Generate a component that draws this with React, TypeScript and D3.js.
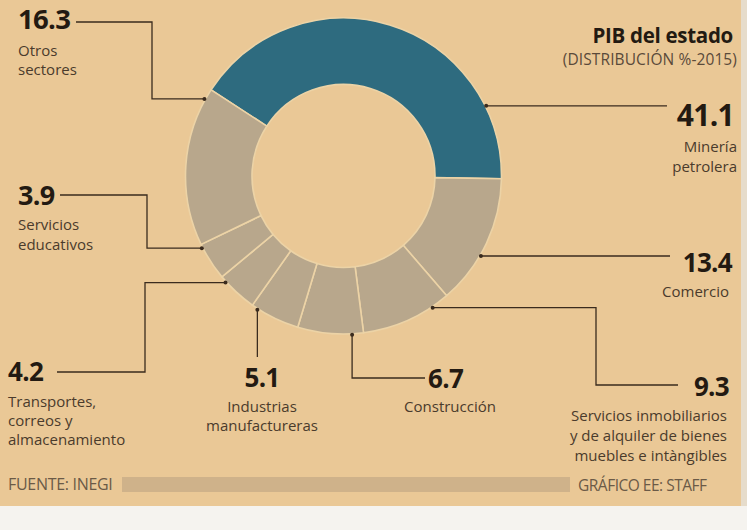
import React from "react";
import * as d3 from "d3";

// ---- data ----
const categories = [
  "Minería petrolera",
  "Comercio",
  "Servicios inmobiliarios y de alquiler de bienes muebles e intángibles",
  "Construcción",
  "Industrias manufactureras",
  "Transportes, correos y almacenamiento",
  "Servicios educativos",
  "Otros sectores",
];
const values = [41.1, 13.4, 9.3, 6.7, 5.1, 4.2, 3.9, 16.3];
const valueLabels = ["41.1", "13.4", "9.3", "6.7", "5.1", "4.2", "3.9", "16.3"];
const labelLines = [
  ["Minería", "petrolera"],
  ["Comercio"],
  ["Servicios inmobiliarios", "y de alquiler de bienes", "muebles e intàngibles"],
  ["Construcción"],
  ["Industrias", "manufactureras"],
  ["Transportes,", "correos y", "almacenamiento"],
  ["Servicios", "educativos"],
  ["Otros", "sectores"],
];
const title = "PIB del estado";
const subtitle = "(DISTRIBUCIÓN %-2015)";
const source = "FUENTE: INEGI";
const credit = "GRÁFICO EE: STAFF";

// ---- layout (positions / styles) ----
const W = 747;
const H = 530;
const CX = 343.5;
const CY = 176;
const R_OUT = 158;
const R_IN = 91.5;
const START_DEG = -56.96;

const BG = "#eac896";
const GRAY = "#b8a78c";
const BLUE = "#2e6b7f";
const SEP = "#ecd3a6";
const INK = "#231a12";
const LABEL_INK = "#4a3b2c";
const LINE_INK = "#3a2b1e";

type Step = { h?: number; v?: number };
type Lay = {
  anchorDeg: number;
  route: Step[];
  numX: number;
  numY: number;
  numSize: number;
  align: "start" | "middle" | "end";
  lineX: number;
  lineAlign: "start" | "middle" | "end";
  lineY: number[];
};

const layout: Lay[] = [
  { anchorDeg: 63.8, route: [{ h: 667 }], numX: 734, numY: 126, numSize: 30, align: "end", lineX: 737, lineAlign: "end", lineY: [152, 172] },
  { anchorDeg: 120.2, route: [{ h: 670 }], numX: 732, numY: 272, numSize: 26, align: "end", lineX: 729, lineAlign: "end", lineY: [297] },
  { anchorDeg: 145.9, route: [{ h: 596 }, { v: 385 }, { h: 678 }], numX: 729, numY: 396, numSize: 26, align: "end", lineX: 727, lineAlign: "end", lineY: [421, 441, 461] },
  { anchorDeg: 176.9, route: [{ v: 378 }, { h: 425 }], numX: 428, numY: 388, numSize: 26, align: "start", lineX: 450, lineAlign: "middle", lineY: [412] },
  { anchorDeg: 212.8, route: [{ v: 357 }], numX: 262, numY: 387, numSize: 26, align: "middle", lineX: 262, lineAlign: "middle", lineY: [412, 431] },
  { anchorDeg: 227.9, route: [{ h: 145 }, { v: 372 }, { h: 57 }], numX: 8, numY: 381, numSize: 26, align: "start", lineX: 8, lineAlign: "start", lineY: [407, 426, 445] },
  { anchorDeg: 243, route: [{ h: 147 }, { v: 195 }, { h: 60 }], numX: 18, numY: 205, numSize: 27, align: "start", lineX: 18, lineAlign: "start", lineY: [230, 250] },
  { anchorDeg: 299, route: [{ h: 152 }, { v: 22 }, { h: 76 }], numX: 18, numY: 29, numSize: 27.5, align: "start", lineX: 18, lineAlign: "start", lineY: [56, 75] },
];

const FONT = "'Open Sans', 'Noto Sans', sans-serif";

export default function App() {
  const pie = d3
    .pie<number>()
    .sort(null)
    .value((d) => d)
    .startAngle((START_DEG * Math.PI) / 180)
    .endAngle((START_DEG * Math.PI) / 180 + 2 * Math.PI);
  const arcs = pie(values);
  const arcGen = d3.arc<d3.PieArcDatum<number>>().innerRadius(R_IN).outerRadius(R_OUT);

  const anchor = (deg: number) => {
    const a = (deg * Math.PI) / 180;
    return [CX + (R_OUT + 1) * Math.sin(a), CY - (R_OUT + 1) * Math.cos(a)];
  };

  const leaderPath = (lay: Lay) => {
    const [ax, ay] = anchor(lay.anchorDeg);
    const p = d3.path();
    p.moveTo(ax, ay);
    let x = ax;
    let y = ay;
    lay.route.forEach((s) => {
      if (s.h !== undefined) x = s.h;
      if (s.v !== undefined) y = s.v;
      p.lineTo(x, y);
    });
    return p.toString();
  };

  return (
    <svg
      width={W}
      height={H}
      viewBox={`0 0 ${W} ${H}`}
      style={{ position: "absolute", left: 0, top: 0, display: "block" }}
      fontFamily={FONT}
    >
      <rect x={0} y={0} width={W} height={H} fill={BG} />

      {/* bottom band */}
      <rect x={122} y={477} width={448} height={15} fill="#cfb28a" />

      {/* donut */}
      <g transform={`translate(${CX},${CY})`}>
        {arcs.map((a, i) => (
          <path
            key={categories[i]}
            d={arcGen(a) || ""}
            fill={i === 0 ? BLUE : GRAY}
            stroke={SEP}
            strokeWidth={1.6}
          />
        ))}
      </g>

      {/* leaders */}
      {layout.map((lay, i) => {
        const [ax, ay] = anchor(lay.anchorDeg);
        return (
          <g key={"l" + i}>
            <path d={leaderPath(lay)} fill="none" stroke={LINE_INK} strokeWidth={1.3} />
            <circle cx={ax} cy={ay} r={2} fill={LINE_INK} />
          </g>
        );
      })}

      {/* value labels */}
      {layout.map((lay, i) => (
        <g key={"t" + i}>
          <text
            x={lay.numX}
            y={lay.numY}
            textAnchor={lay.align}
            fontSize={lay.numSize}
            fontWeight={700}
            fill={INK}
            letterSpacing={-0.7}
          >
            {valueLabels[i]}
          </text>
          {labelLines[i].map((ln, j) => (
            <text
              key={j}
              x={lay.lineX}
              y={lay.lineY[j]}
              textAnchor={lay.lineAlign}
              fontSize={15}
              fill={LABEL_INK}
              letterSpacing={0}
            >
              {ln}
            </text>
          ))}
        </g>
      ))}

      {/* title */}
      <text x={733} y={43} textAnchor="end" fontSize={20.5} fontWeight={700} fill={INK} letterSpacing={-0.3}>
        {title}
      </text>
      <text x={737} y={65} textAnchor="end" fontSize={15.5} fill="#5a4a3a" letterSpacing={0.1}>
        {subtitle}
      </text>

      {/* footer */}
      <text x={8} y={490} fontSize={16} fill="#6b5a47" letterSpacing={-0.3}>
        {source}
      </text>
      <text x={578} y={491} fontSize={15.5} fill="#6b5a47" letterSpacing={-0.5}>
        {credit}
      </text>

      {/* paper edge */}
      <rect x={0} y={506} width={W} height={H - 506} fill="#f5f3ef" />
      <rect x={741} y={0} width={6} height={506} fill="#e6dccb" />
    </svg>
  );
}
